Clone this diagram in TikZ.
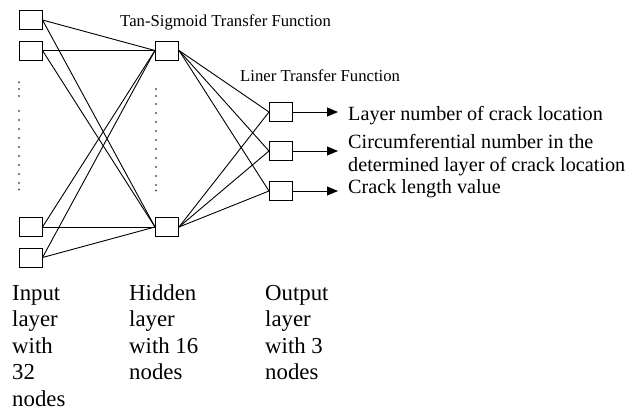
\documentclass[tikz,border=0pt]{standalone}
\usepackage{fontspec}
\setmainfont{Liberation Serif}
\usetikzlibrary{arrows.meta}
\begin{document}
\begin{tikzpicture}[x=1pt,y=-1pt,
  unit/.style={draw,line width=1pt,minimum width=23pt,minimum height=19pt,inner sep=0pt},
  link/.style={line width=0.9pt},
  outarrow/.style={line width=0.9pt,-{Triangle[length=11pt,width=9pt]}},
  dotmark/.style={fill=black!65,circle,inner sep=0pt,minimum size=2.2pt},
  titletext/.style={anchor=base west,inner sep=0pt,font=\fontsize{16.7}{19}\selectfont},
  outtext/.style={anchor=base west,inner sep=0pt,font=\fontsize{20.2}{23.7}\selectfont,align=left},
  layertext/.style={anchor=base west,inner sep=0pt,font=\fontsize{22.8}{26.5}\selectfont,align=left}]
\useasboundingbox (0,0) rectangle (638,410);
% input nodes
\node[unit] (i1) at (30.5,20) {};
\node[unit] (i2) at (30.5,50.5) {};
\node[unit] (i3) at (30.5,227) {};
\node[unit] (i4) at (30.5,257.5) {};
% hidden nodes
\node[unit] (h1) at (167,50.5) {};
\node[unit] (h2) at (167,227) {};
% output nodes
\node[unit] (o1) at (281,112) {};
\node[unit] (o2) at (281,151) {};
\node[unit] (o3) at (281,191) {};
% input-hidden links
\foreach \i in {i1,i2,i3,i4}{
  \foreach \h in {h1,h2}{
    \draw[link] (\i.east) -- (\h.west);
  }
}
% hidden-output links
\foreach \h in {h1,h2}{
  \foreach \o in {o1,o2,o3}{
    \draw[link] (\h.east) -- (\o.west);
  }
}
% output arrows
\coordinate (e1) at (338,112);
\coordinate (e2) at (338,151);
\coordinate (e3) at (338,191);
\draw[outarrow] (o1.east) -- (e1);
\draw[outarrow] (o2.east) -- (e2);
\draw[outarrow] (o3.east) -- (e3);
% dots
\foreach \y in {82.3,89,96,111,120,129,138,147,156,165,174,183,189.5}{
  \node[dotmark] at (19,\y) {};
}
\foreach \y in {89,96,104,113,122,131,140,149,158,167,176,185,190.5}{
  \node[dotmark] at (156,\y) {};
}
% titles
\node[titletext] (t1) at (120,26.5) {Tan-Sigmoid Transfer Function};
\node[titletext] (t2) at (240,81) {Liner Transfer Function};
% output labels
\node[outtext] (l1) at (348,120) {Layer number of crack location};
\node[outtext] (l2) at (348,148.3) {Circumferential number in the};
\node[outtext] (l2b) at (348,171.7) {determined layer of crack location};
\node[outtext] (l3) at (348,193.3) {Crack length value};
% layer labels (anchored at the baseline of the last line)
\node[layertext] (a) at (12,406) {Input\\layer\\with\\32\\nodes};
\node[layertext] (b) at (129,379.5) {Hidden\\layer\\with 16\\nodes};
\node[layertext] (c) at (265,379.5) {Output\\layer\\with 3\\nodes};
\end{tikzpicture}
\end{document}
